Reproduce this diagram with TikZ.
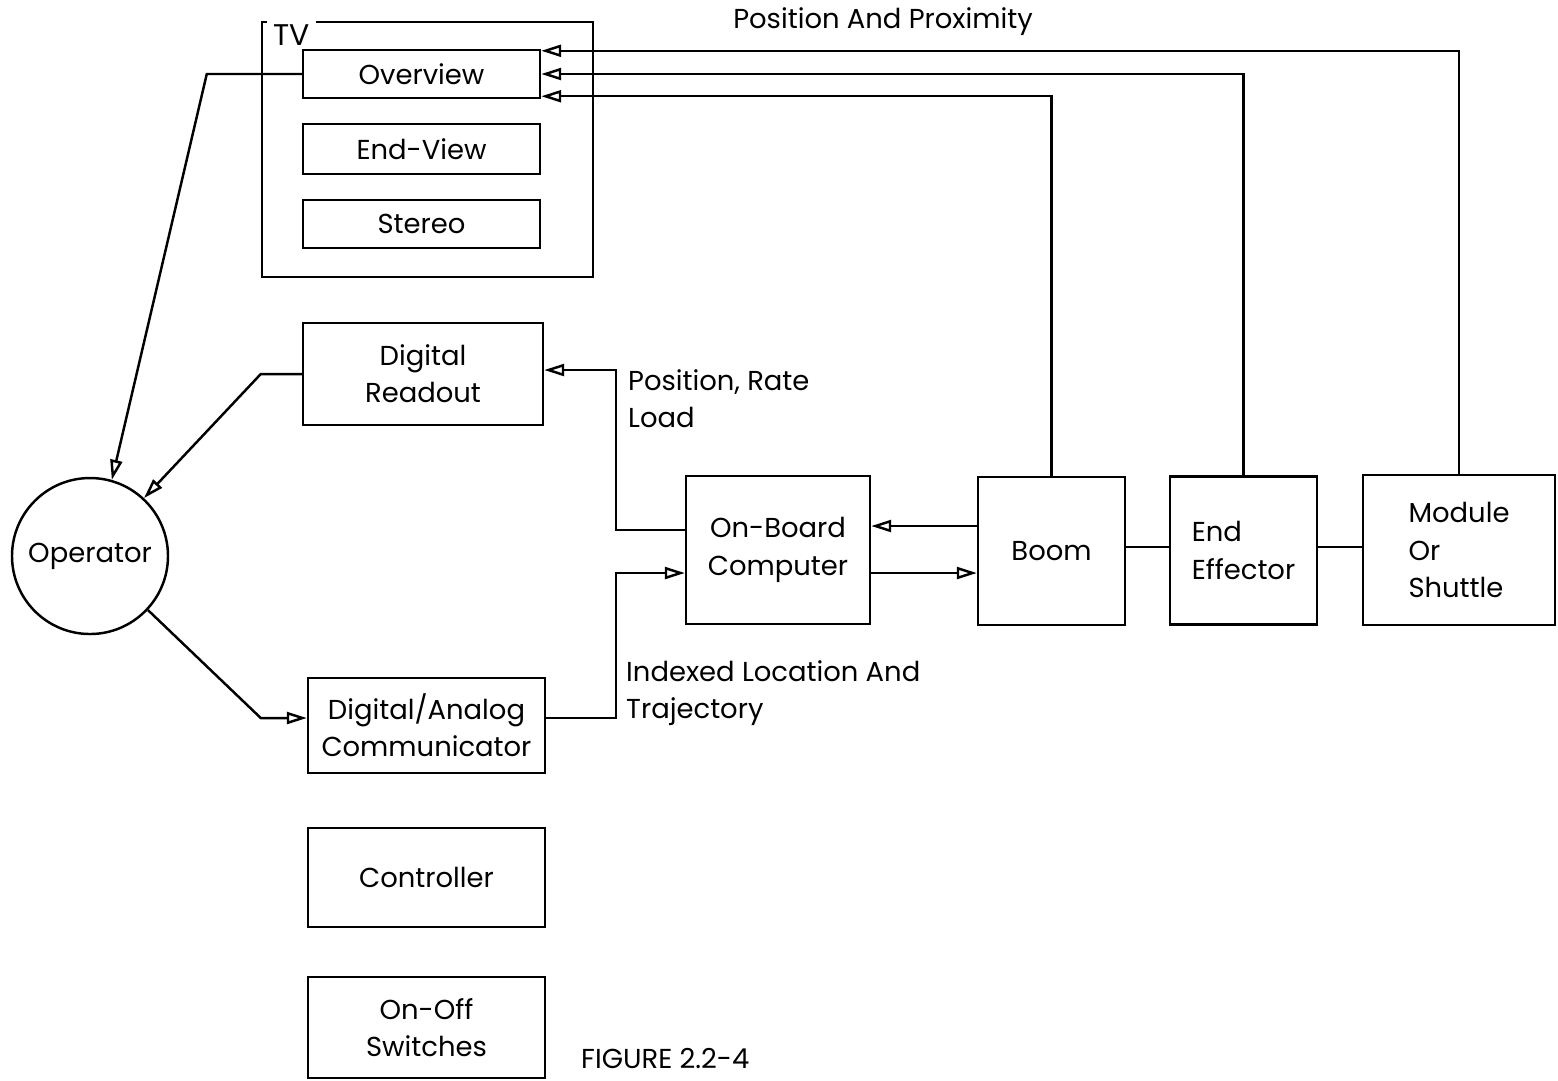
\documentclass[tikz,border=0pt]{standalone}
\usepackage{fontspec}
\setmainfont{Poppins}
\usetikzlibrary{positioning, arrows.meta, calc}

\begin{document}
\begin{tikzpicture}[
    x=0.1mm, y=-0.1mm,      % 1 unit = 1 pixel of the reference
    line width=0.7pt,
    font=\fontsize{7.8}{10.6}\selectfont,
    >={Triangle[open, length=2mm, width=1.2mm]},
    unit_box/.style={draw, minimum width=23.7mm, inner sep=1mm, align=center},
    big_box/.style={draw, minimum height=14.8mm, inner sep=1mm},
    flow/.style={->}
]
    \useasboundingbox (0,0) rectangle (1558,1080);

    % --- TV group ---
    \node [draw, minimum width=33.1mm, minimum height=25.5mm] (tv_frame) at (427.5,149.5) {};
    \node [fill=white, inner sep=0.6mm, anchor=north west, font=\fontsize{8.5}{10}\selectfont] (tv) at (266,17) {TV};
    \node [unit_box, minimum height=4.8mm] (overview) at (421.5,74) {Overview};
    \node [unit_box, minimum height=5.0mm] (endview) at (421.5,149) {End-View};
    \node [unit_box, minimum height=4.8mm] (stereo) at (421.5,224) {Stereo};

    % --- left column ---
    \node [unit_box, minimum width=24mm, minimum height=10.2mm] (readout) at (423,374) {Digital\\Readout};
    \node [draw, circle, minimum size=15.6mm, inner sep=0pt] (operator) at (90,556) {Operator};
    \node [unit_box, minimum height=9.5mm] (communicator) at (426.5,725.5) {Digital/Analog\\Communicator};
    \node [unit_box, minimum height=9.9mm] (controller) at (426.5,877.5) {Controller};
    \node [unit_box, minimum height=10.1mm] (switches) at (426.5,1027.5) {On-Off\\Switches};

    % --- right chain ---
    \node [big_box, minimum width=18.4mm, align=center] (computer) at (778,550) {On-Board\\Computer};
    \node [big_box, minimum width=14.7mm] (boom) at (1051.5,551) {Boom};
    \node [big_box, minimum width=14.7mm, align=left] (effector) at (1243.5,550.5) {End\\Effector};
    \node [big_box, minimum width=19.2mm, minimum height=15mm, align=left] (module) at (1459,550) {Module\\Or\\Shuttle};

    % --- operator links ---
    \draw [flow] (overview.west) -- ++(-9.5mm,0) -- (operator.74);
    \draw [flow] (readout.west) -- ++(-4.1mm,0) -- (operator.47);
    \draw [flow] (operator.-43) -- ([xshift=-4.6mm,yshift=0.75mm]communicator.west)
        -- ([yshift=0.75mm]communicator.west);

    % --- computer links ---
    \draw [flow] ([yshift=2mm]computer.west) -- ++(-6.9mm,0) |- ([yshift=0.4mm]readout.east);
    \draw [flow] ([yshift=0.75mm]communicator.east) -- ++(7mm,0) |- ([yshift=-2.3mm]computer.west);
    \draw [flow] ([yshift=2.5mm]boom.west) -- ([yshift=2.5mm]boom.west -| computer.east);
    \draw [flow] ([yshift=-2.3mm]computer.east) -- ([yshift=-2.3mm]computer.east -| boom.west);
    \draw ([yshift=0.4mm]boom.east) -- ([yshift=0.4mm]boom.east -| effector.west);
    \draw ([yshift=0.4mm]boom.east -| effector.east) -- ([yshift=0.4mm]boom.east -| module.west);

    % --- feedback to the overview camera ---
    \draw [flow] (boom.north) |- ([yshift=0.3mm]overview.south east);
    \draw [flow] (effector.north) |- (overview.east);
    \draw [flow] (module.north) |- ([yshift=-0.2mm]overview.north east);

    % --- labels ---
    \node (proximity_label) at (883,22) {Position And Proximity};
    \node [anchor=north west, align=left, inner sep=0pt] (rate_label) at (627,368) {Position, Rate\\Load};
    \node [anchor=north west, align=left, inner sep=0pt] (trajectory_label) at (625,659) {Indexed Location And\\Trajectory};
    \node [anchor=base west, inner sep=0pt] (caption) at (580,1068) {FIGURE 2.2-4};

\end{tikzpicture}
\end{document}
